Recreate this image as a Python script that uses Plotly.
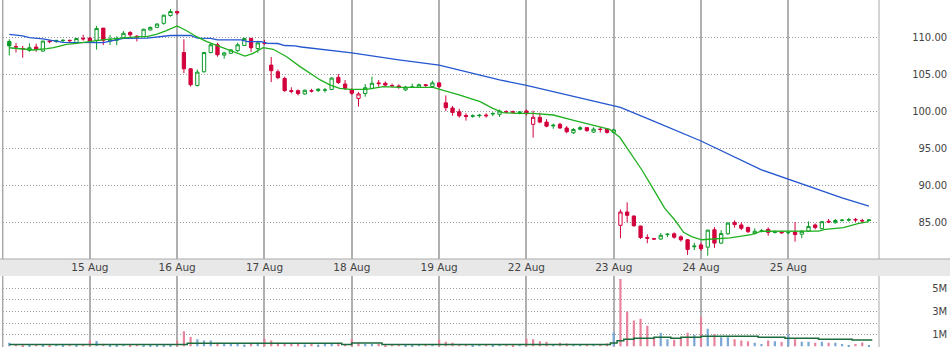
import plotly.graph_objects as go

# ---------------- data ----------------
day_ticks = [12, 25, 38, 51, 64, 77, 90, 103, 116]
day_labels = ["15 Aug", "16 Aug", "17 Aug", "18 Aug", "19 Aug", "22 Aug", "23 Aug", "24 Aug", "25 Aug"]

opens = [109.4, 108.7, 108.45, 108.2, 108.65, 108.1, 109.45, 109.55, 109.5, 109.55,
         109.2, 109.8, 109.85, 109.55, 111.2, 109.45, 109.55, 109.9, 110.6, 110.1,
         110.05, 110.95, 111.3, 111.85, 112.9, 113.45, 107.9, 105.7, 103.45, 105.3,
         107.9, 108.95, 107.55, 107.8, 108.15, 108.85, 109.8, 108.45, 109.2, 106.2,
         105.3, 104.4, 102.75, 102.75, 102.3, 102.75, 102.95, 102.8, 102.9, 104.55,
         103.65, 102.9, 101.7, 102.35, 103.05, 103.8, 103.75, 103.45, 103.38, 102.85,
         103.2, 103.2, 103.55, 103.3, 103.8, 101.1, 100.4, 99.9, 99.4, 99.35,
         99.45, 99.45, 99.6, 99.55, 99.9, 99.9, 99.8, 100.0, 98.2, 99.15,
         98.5, 98.1, 98.2, 97.7, 97.05, 97.75, 97.75, 97.15, 97.55, 97.55,
         97.1, 84.55, 86.35, 85.8, 84.45, 82.9, 82.75, 82.7, 83.3, 83.4,
         83.0, 82.6, 81.65, 81.9, 81.6, 83.95, 82.15, 83.4, 84.95, 84.6,
         84.25, 83.45, 83.75, 84.0, 83.6, 83.65, 83.55, 83.65, 83.35, 83.75,
         84.6, 84.1, 85.1, 84.9, 85.2, 85.25, 85.35, 85.2, 85.3]
highs = [109.7, 109.2, 108.8, 109.15, 109.1, 109.5, 109.6, 109.6, 109.7, 109.65,
         109.85, 110.3, 110.0, 111.5, 111.2, 110.27, 110.1, 110.8, 110.8, 110.27,
         111.1, 111.4, 111.85, 113.0, 113.78, 113.5, 109.7, 105.8, 105.6, 108.0,
         109.2, 109.23, 108.0, 108.35, 109.23, 109.9, 109.9, 109.5, 109.6, 107.3,
         105.6, 104.64, 103.2, 102.9, 102.9, 103.0, 103.05, 103.1, 104.55, 105.0,
         104.19, 103.07, 102.55, 103.65, 104.64, 104.19, 104.0, 103.7, 103.6, 103.4,
         103.7, 103.7, 103.65, 104.1, 103.9, 102.1, 100.68, 100.3, 99.7, 99.55,
         99.6, 99.7, 99.85, 100.2, 100.1, 100.05, 100.0, 100.2, 100.05, 99.77,
         98.9, 98.3, 98.4, 97.97, 97.7, 97.97, 97.85, 97.8, 97.8, 97.7,
         97.6, 86.7, 87.65, 85.9, 84.5, 83.34, 82.85, 83.5, 83.5, 83.6,
         83.2, 82.7, 82.2, 82.2, 83.96, 84.3, 83.9, 84.95, 85.23, 84.95,
         84.4, 84.15, 84.05, 84.28, 83.85, 83.75, 83.7, 85.0, 83.92, 85.09,
         84.8, 85.1, 85.4, 85.4, 85.4, 85.55, 85.55, 85.45, 85.32]
lows = [107.5, 107.9, 107.2, 108.0, 108.0, 108.0, 109.15, 109.2, 109.3, 109.35,
        109.1, 109.5, 109.3, 108.3, 108.9, 108.92, 108.9, 109.8, 109.9, 109.4,
        110.0, 110.85, 111.2, 111.65, 112.74, 113.0, 105.1, 103.3, 103.3, 105.2,
        107.8, 107.34, 107.07, 107.7, 107.97, 108.8, 108.0, 107.88, 108.95, 103.9,
        104.3, 102.6, 102.4, 102.1, 102.2, 102.5, 102.55, 102.5, 102.85, 103.65,
        102.84, 102.16, 100.6, 101.93, 102.93, 103.28, 103.3, 103.2, 103.0, 102.7,
        103.1, 103.15, 103.25, 103.1, 103.1, 100.0, 99.37, 99.1, 98.7, 99.1,
        99.1, 99.1, 99.3, 99.2, 99.7, 99.65, 99.55, 99.4, 96.4, 98.34,
        97.8, 97.6, 97.6, 96.99, 96.9, 97.4, 97.2, 97.05, 97.1, 96.95,
        96.95, 82.8, 84.96, 84.35, 82.7, 82.13, 82.6, 82.6, 82.95, 82.75,
        82.35, 80.55, 81.2, 81.1, 80.45, 81.5, 82.0, 83.3, 84.23, 83.9,
        83.5, 83.3, 83.6, 83.15, 83.45, 83.4, 83.35, 82.35, 82.8, 83.65,
        84.0, 84.0, 84.85, 84.8, 85.05, 85.05, 85.0, 84.85, 85.12]
closes = [108.8, 108.65, 108.4, 108.55, 108.35, 109.45, 109.38, 109.42, 109.55, 109.5,
          109.8, 109.75, 109.45, 111.15, 109.55, 109.6, 109.8, 110.5, 110.3, 110.0,
          111.05, 111.3, 111.75, 112.95, 113.45, 113.25, 105.7, 103.55, 105.25, 107.9,
          108.95, 107.6, 107.85, 108.25, 108.95, 109.8, 108.55, 109.2, 109.15, 105.45,
          104.5, 102.75, 102.65, 102.35, 102.8, 102.7, 102.8, 102.85, 104.45, 103.85,
          103.05, 102.4, 102.3, 103.15, 103.75, 103.7, 103.5, 103.4, 103.2, 103.22,
          103.25, 103.55, 103.45, 103.8, 103.3, 100.45, 99.8, 99.35, 99.25, 99.3,
          99.38, 99.36, 99.65, 100.0, 99.85, 99.84, 99.86, 99.65, 99.15, 98.5,
          97.95, 98.0, 97.7, 97.2, 97.5, 97.55, 97.35, 97.55, 97.5, 97.1,
          97.45, 86.35, 85.9, 84.5, 82.9, 82.82, 82.7, 83.2, 83.35, 82.95,
          82.6, 81.3, 81.75, 81.4, 83.9, 82.15, 83.45, 84.85, 84.65, 84.15,
          83.7, 83.75, 83.8, 83.6, 83.65, 83.55, 83.58, 83.3, 83.75, 84.4,
          84.25, 85.05, 85.0, 85.2, 85.25, 85.3, 85.28, 85.15, 85.2]

# volume in millions
volume_m = [0.30, 0.20, 0.15, 0.15, 0.20, 0.15, 0.15, 0.20, 0.15, 0.20,
            0.15, 0.20, 0.50, 0.45, 0.20, 0.15, 0.15, 0.20, 0.15, 0.20,
            0.15, 0.15, 0.15, 0.15, 0.15, 0.50, 1.30, 0.80, 0.60, 0.50,
            0.50, 0.30, 0.20, 0.20, 0.20, 0.15, 0.30, 0.30, 0.66, 0.50,
            0.30, 0.20, 0.20, 0.20, 0.15, 0.20, 0.15, 0.20, 0.20, 0.30,
            0.20, 0.60, 0.30, 0.20, 0.20, 0.20, 0.15, 0.20, 0.20, 0.10,
            0.15, 0.20, 0.20, 0.20, 0.57, 0.40, 0.30, 0.20, 0.20, 0.15,
            0.20, 0.20, 0.15, 0.20, 0.20, 0.15, 0.20, 0.66, 0.60, 0.43,
            0.40, 0.20, 0.30, 0.25, 0.20, 0.20, 0.20, 0.20, 0.20, 0.25,
            1.20, 5.80, 3.00, 2.23, 2.37, 1.77, 0.71, 1.17, 0.60, 0.57,
            0.71, 1.17, 1.00, 2.54, 1.51, 1.06, 0.77, 0.77, 0.60, 0.50,
            0.43, 0.30, 0.20, 0.50, 0.43, 0.37, 1.00, 0.60, 0.40, 0.40,
            0.30, 0.40, 0.30, 0.30, 0.20, 0.12, 0.20, 0.33, 0.08]

# moving averages (bar index, value)
ma_long_idx = [0, 2, 3, 5, 6.5, 8, 14, 15.5, 17, 20.5, 22, 24, 27, 28, 30, 31, 34.5, 35.5, 37.5,
               38.5, 40, 41, 42.5, 43.5, 51, 58, 64, 67, 70, 73, 77, 81, 85, 90, 91, 95.5,
               103, 112, 116, 120, 124, 128]
ma_long_val = [110.36, 110.15, 109.92, 109.75, 109.5, 109.27, 109.25, 109.5, 109.82, 109.85,
               110.0, 110.2, 110.22, 109.85, 109.82, 109.6, 109.6, 109.38, 109.36, 109.15,
               109.12, 108.85, 108.8, 108.65, 107.85, 106.9, 106.2, 105.55, 104.86, 104.2,
               103.47, 102.6, 101.72, 100.68, 100.5, 98.8, 95.95, 92.05, 90.8, 89.5, 88.25, 87.15]

ma_short_idx = [0, 1.6, 3.6, 5.6, 6.6, 7.5, 8.5, 10, 11.5, 13, 14.5, 16, 17.5, 19.5, 20.5, 22,
                23.4, 25, 26.4, 27.9, 29.4, 31.4, 33.4, 35.1, 36.3, 37.8, 39.3, 41.3, 43.3, 44.8,
                46.3, 47.8, 49.2, 50.7, 53.2, 55.7, 58.2, 63.1, 64.6, 67.1, 70.1, 72, 73.5, 75.5,
                78, 81, 83.9, 86.9, 89.4, 90.9, 94.2, 95.4, 96.4, 97.6, 99.1, 100.4, 101.6, 103.1,
                107.3, 110.5, 112, 116, 120.5, 121.5, 124.2, 126.5, 128]
ma_short_val = [108.55, 108.42, 108.24, 108.42, 108.55, 108.78, 109.0, 109.15, 109.28, 109.5,
                109.69, 109.82, 109.9, 110.04, 110.04, 110.4, 110.85, 111.49, 110.85, 110.04,
                109.37, 108.69, 108.0, 107.43, 107.8, 108.55, 108.34, 107.34, 106.0, 105.1,
                104.2, 103.5, 103.07, 102.93, 102.93, 103.29, 103.2, 103.2, 102.84, 102.16,
                101.26, 100.36, 99.77, 99.68, 99.68, 99.46, 98.78, 98.1, 97.53, 96.45,
                92.03, 90.23, 88.65, 86.85, 85.27, 83.6, 83.02, 82.6, 82.85, 83.3,
                83.75, 83.78, 83.78, 84.0, 84.23, 84.82, 85.05]

vol_avg_idx = [0, 26.5, 49.5, 51, 55.5, 89.5, 90.5, 91.5, 93, 96, 98.5, 100, 103, 108.5,
               111.5, 115.5, 120.5, 125.5, 128.5]
vol_avg_m = [0.15, 0.27, 0.15, 0.28, 0.15, 0.28, 0.48, 0.60, 0.69, 0.78, 0.69, 0.78, 0.86,
             0.86, 0.78, 0.69, 0.60, 0.54, 0.54]

price_ticks = [85, 90, 95, 100, 105, 110]
vol_ticks_m = [1, 2, 3, 4, 5]
vol_tick_text = ["1M", "", "3M", "", "5M"]

# ---------------- styling ----------------
W, H = 950, 347
GREEN = "#0c9a28"
RED = "#d2003c"
VOL_UP = "#7aa7d3"
VOL_DN = "#e8839c"
FONT = "DejaVu Sans"
DOTS = "1px,2px"

n = len(closes)
idx = list(range(n))

up_flags = [i == 0 or closes[i] >= closes[i - 1] for i in idx]

groups = {}
for i in idx:
    hollow = closes[i] > opens[i]
    groups.setdefault((up_flags[i], hollow), []).append(i)

fig = go.Figure()

for (up, hollow), members in groups.items():
    col = GREEN if up else RED
    fill = "white" if hollow else col
    fig.add_trace(go.Candlestick(
        x=members,
        open=[opens[i] for i in members],
        high=[highs[i] for i in members],
        low=[lows[i] for i in members],
        close=[closes[i] for i in members],
        increasing=dict(line=dict(color=col, width=1), fillcolor=fill),
        decreasing=dict(line=dict(color=col, width=1), fillcolor=fill),
        whiskerwidth=0,
        showlegend=False, hoverinfo="skip",
        xaxis="x", yaxis="y",
    ))

fig.add_trace(go.Scatter(x=ma_long_idx, y=ma_long_val, mode="lines",
                         line=dict(color="#2456d0", width=1.3), showlegend=False,
                         hoverinfo="skip", xaxis="x", yaxis="y"))
fig.add_trace(go.Scatter(x=ma_short_idx, y=ma_short_val, mode="lines",
                         line=dict(color="#1fb01f", width=1.3), showlegend=False,
                         hoverinfo="skip", xaxis="x", yaxis="y"))

vol_colors = [VOL_UP if up_flags[i] else VOL_DN for i in idx]
fig.add_trace(go.Bar(x=idx, y=volume_m, marker=dict(color=vol_colors, line=dict(width=0)),
                     width=0.33, showlegend=False, hoverinfo="skip", xaxis="x2", yaxis="y2"))
fig.add_trace(go.Scatter(x=vol_avg_idx, y=vol_avg_m, mode="lines", line_shape="hv",
                         line=dict(color="#1c6b3c", width=1.5), showlegend=False,
                         hoverinfo="skip", xaxis="x2", yaxis="y2"))

x_left, x_right = 2.7 / W, 879 / W
price_bottom = (H - 259) / H
vol_top = (H - 276) / H
xrange = [-0.98, 129.5]

fig.update_layout(
    width=W, height=H,
    margin=dict(l=0, r=0, t=0, b=0),
    paper_bgcolor="white", plot_bgcolor="white",
    showlegend=False,
    font=dict(family=FONT, size=10, color="#444"),
    xaxis=dict(domain=[x_left, x_right], range=xrange, anchor="y",
               tickmode="array", tickvals=day_ticks, ticktext=day_labels,
               showgrid=True, gridcolor="#b0b0b0", gridwidth=2,
               zeroline=False, showline=False, ticks="",
               rangeslider=dict(visible=False),
               tickfont=dict(family=FONT, size=10.5, color="#444")),
    xaxis2=dict(domain=[x_left, x_right], range=xrange, anchor="y2", matches="x",
                tickmode="array", tickvals=day_ticks, showticklabels=False,
                showgrid=True, gridcolor="#b0b0b0", gridwidth=2,
                zeroline=False, showline=False, ticks=""),
    yaxis=dict(domain=[price_bottom, 1], range=[80, 115], anchor="free", position=0.997,
               side="left", tickmode="array", tickvals=price_ticks,
               ticktext=["%.2f" % v for v in price_ticks],
               showgrid=True, gridcolor="#999999", griddash=DOTS, gridwidth=1,
               zeroline=False, showline=False, ticks="",
               tickfont=dict(family=FONT, size=10, color="#444")),
    yaxis2=dict(domain=[0, vol_top], range=[-0.06, 6.06], anchor="free", position=0.997,
                side="left", tickmode="array", tickvals=vol_ticks_m, ticktext=vol_tick_text,
                showgrid=True, gridcolor="#999999", griddash=DOTS, gridwidth=1,
                zeroline=False, showline=False, ticks="",
                tickfont=dict(family=FONT, size=10, color="#444")),
    shapes=[
        dict(type="rect", xref="paper", yref="paper", x0=0, x1=1, y0=vol_top, y1=price_bottom,
             fillcolor="#e8e8e8", line=dict(width=0), layer="below"),
        dict(type="line", xref="paper", yref="paper", x0=0, x1=1, y0=price_bottom, y1=price_bottom,
             line=dict(color="#aaaaaa", width=1)),
        dict(type="line", xref="paper", yref="paper", x0=x_right, x1=x_right, y0=price_bottom, y1=1,
             line=dict(color="#aaaaaa", width=1)),
        dict(type="line", xref="paper", yref="paper", x0=x_right, x1=x_right, y0=0, y1=vol_top,
             line=dict(color="#aaaaaa", width=1)),
        dict(type="line", xref="paper", yref="paper", x0=x_left, x1=x_left, y0=price_bottom, y1=1,
             line=dict(color="#aaaaaa", width=1.5)),
        dict(type="line", xref="paper", yref="paper", x0=x_left, x1=x_left, y0=0, y1=vol_top,
             line=dict(color="#aaaaaa", width=1.5)),
    ],
)

fig.write_html("out.html")
